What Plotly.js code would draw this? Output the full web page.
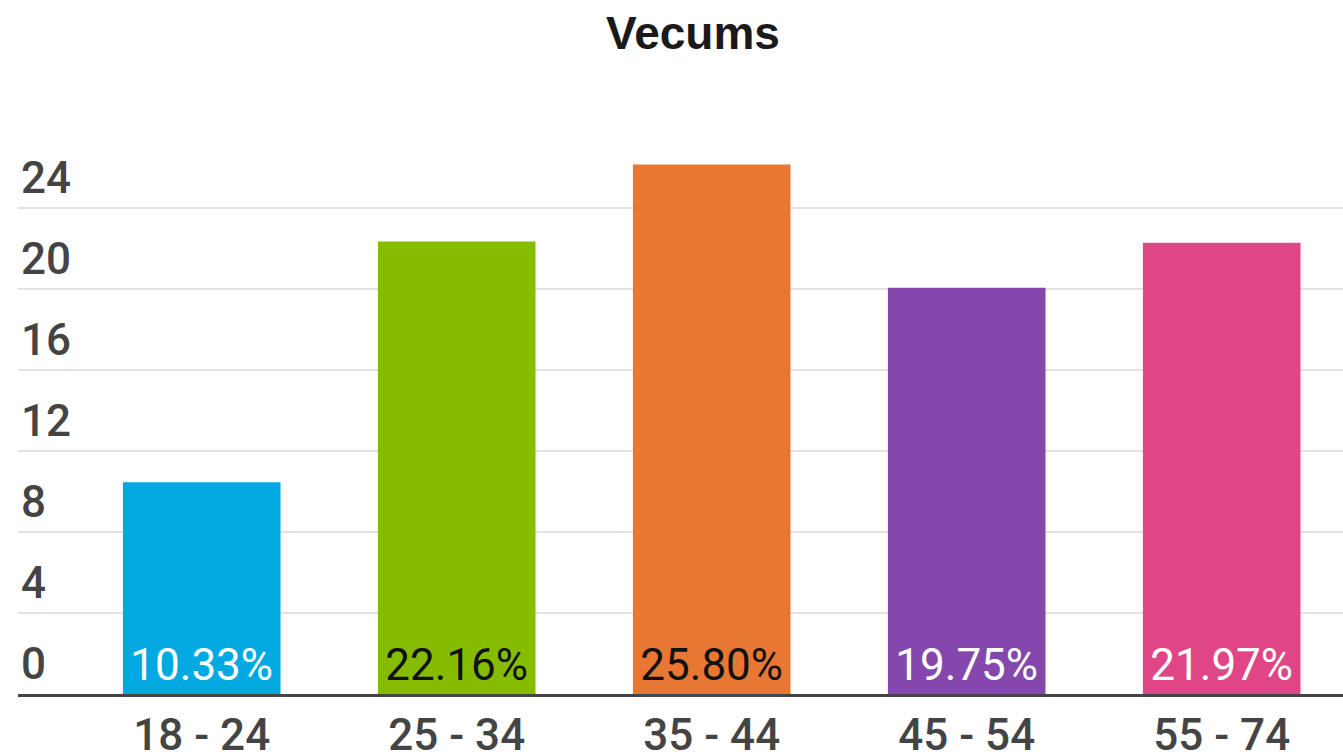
<!DOCTYPE html>
<html>
<head>
<meta charset="utf-8">
<script src="https://cdn.plot.ly/plotly-3.0.1.min.js"></script>
<style>html,body{margin:0;padding:0;background:#fff;}#chart{width:1343px;height:752px;}</style>
</head>
<body>
<div id="chart"></div>
<script>
var categories = ['18 - 24', '25 - 34', '35 - 44', '45 - 54', '55 - 74'];
var values = [10.46, 22.35, 26.15, 20.06, 22.28];
var labels = ['10.33%', '22.16%', '25.80%', '19.75%', '21.97%'];
var barColors = ['#02a9e0', '#86bc00', '#e97734', '#8448ad', '#e04686'];
var labelColors = ['#ffffff', '#111111', '#111111', '#ffffff', '#ffffff'];
var yTicks = [0, 4, 8, 12, 16, 20, 24];

var trace = {
  type: 'bar',
  x: categories,
  y: values,
  text: labels,
  textposition: 'inside',
  insidetextanchor: 'start',
  constraintext: 'none',
  textangle: 0,
  textfont: {family: 'Roboto, sans-serif', size: 44, color: labelColors},
  marker: {color: barColors, line: {width: 0}},
  hoverinfo: 'none'
};

var layout = {
  width: 1343,
  height: 752,
  margin: {l: 18, r: 0, t: 150, b: 58},
  paper_bgcolor: '#ffffff',
  plot_bgcolor: '#ffffff',
  showlegend: false,
  bargap: 0.382,
  title: {
    text: '<b>Vecums</b>',
    font: {family: 'Liberation Sans, Arial, sans-serif', size: 46, color: '#1a1a1a'},
    x: 693 / 1343,
    xref: 'container',
    xanchor: 'center',
    y: 1 - 33 / 752,
    yref: 'container',
    yanchor: 'middle'
  },
  xaxis: {
    type: 'category',
    range: [-0.7204, 4.4757],
    showgrid: false,
    zeroline: false,
    showline: true,
    linecolor: '#444444',
    linewidth: 3,
    ticks: '',
    tickfont: {family: 'Roboto, sans-serif', size: 44, color: '#444444', weight: 500},
    ticklabelstandoff: 0,
    fixedrange: true
  },
  yaxis: {
    range: [0, 26.864],
    tickmode: 'array',
    tickvals: yTicks,
    ticktext: yTicks.map(String),
    showgrid: true,
    gridcolor: '#e2e2e2',
    gridwidth: 2,
    zeroline: false,
    showline: false,
    ticks: '',
    ticklabelposition: 'inside top',
    tickfont: {family: 'Roboto, sans-serif', size: 44, color: '#444444', weight: 500},
    fixedrange: true
  }
};

Plotly.newPlot('chart', [trace], layout, {displayModeBar: false, staticPlot: true});
</script>
</body>
</html>
